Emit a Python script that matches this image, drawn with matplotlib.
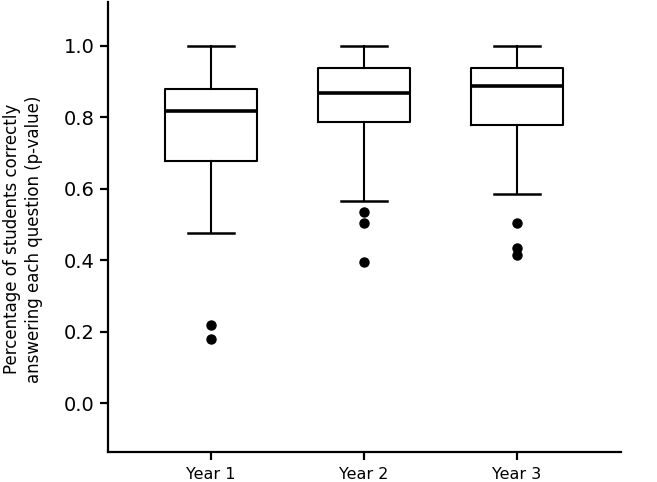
import matplotlib
matplotlib.use("Agg")
import matplotlib.pyplot as plt

categories = ["Year 1", "Year 2", "Year 3"]
whislo = [0.476, 0.566, 0.586]
q1 = [0.678, 0.788, 0.778]
med = [0.818, 0.869, 0.889]
q3 = [0.880, 0.939, 0.939]
whishi = [1.0, 1.0, 1.0]
fliers = [[0.218, 0.179], [0.536, 0.505, 0.395], [0.505, 0.435, 0.414]]
yticks = [0.0, 0.2, 0.4, 0.6, 0.8, 1.0]

stats = []
for i, c in enumerate(categories):
    stats.append(dict(label=c, whislo=whislo[i], q1=q1[i], med=med[i],
                      q3=q3[i], whishi=whishi[i], fliers=fliers[i]))

fig = plt.figure(figsize=(6.57, 4.82), dpi=100)
ax = fig.add_axes([108/657, 30/482, (621-108)/657, (452-2)/482])

ax.bxp(stats, positions=[1, 2, 3], widths=0.6,
       boxprops=dict(color="black", linewidth=1.5),
       whiskerprops=dict(color="black", linewidth=1.5),
       capprops=dict(color="black", linewidth=1.8),
       medianprops=dict(color="black", linewidth=2.6),
       flierprops=dict(marker="o", markerfacecolor="black", markeredgecolor="black",
                       markersize=6.5),
       capwidths=0.3)

ax.set_xlim(0.327, 3.68)
ax.set_ylim(-0.137, 1.123)
ax.set_yticks(yticks)
ax.set_yticklabels([f"{t:.1f}" for t in yticks], fontsize=14)
ax.set_xticks([1, 2, 3])
ax.set_xticklabels(categories, fontsize=11.5)

for s in ["top", "right"]:
    ax.spines[s].set_visible(False)
for s in ["left", "bottom"]:
    ax.spines[s].set_linewidth(1.6)
ax.tick_params(axis="both", direction="out", length=5.5, width=1.6, colors="black")
ax.tick_params(axis="y", pad=4)
ax.tick_params(axis="x", pad=5)

ax.set_ylabel("Percentage of students correctly\nanswering each question (p-value)",
              fontsize=12, linespacing=1.3)
ax.yaxis.set_label_coords(-0.127, 0.473)

fig.savefig("out.png", dpi=100)
